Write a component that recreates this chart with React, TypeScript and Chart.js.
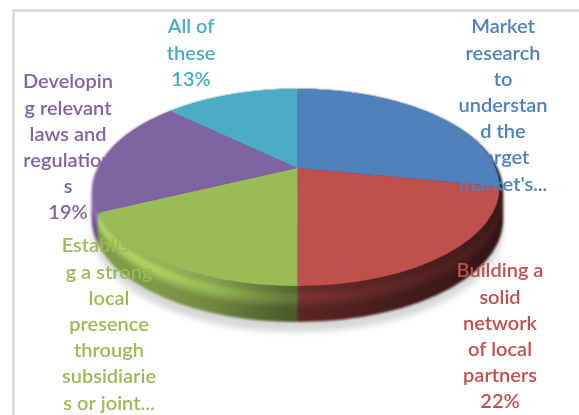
import React, { useEffect, useRef } from "react";
import { Chart, registerables } from "chart.js";

Chart.register(...registerables);

// Share of respondents per measure, clockwise from twelve o'clock.
const categories = [
  "Market research to understand the target market's...",
  "Building a solid network of local partners",
  "Establishing a strong local presence through subsidiaries or joint...",
  "Developing relevant laws and regulations",
  "All of these",
];
const shares = [28, 22, 18, 19, 13];
const sliceColors = ["#4f81bd", "#c0504d", "#9bbb59", "#8064a2", "#4bacc6"];

// Wrapped label text, one entry per category.
const labelLines = [
  ["Market", "research", "to", "understan", "d the", "target", "market's..."],
  ["Building a", "solid", "network", "of local", "partners", "22%"],
  ["Establishin", "g a strong", "local", "presence", "through", "subsidiarie", "s or joint..."],
  ["Developin", "g relevant", "laws and", "regulation", "s", "19%"],
  ["All of", "these", "13%"],
];

// Centre x and first-line centre y of each label block.
const labelAnchors = [
  [503, 27],
  [500, 271],
  [109, 246],
  [68, 82],
  [191, 27],
];
const LINE_HEIGHT = 26.2;

const W = 579;
const H = 415;

// Projected disc: apex of the slices, far and near rim, half width through the apex.
const APEX_X = 297.5;
const APEX_Y = 168;
const RIM_TOP = 89;
const RIM_BOTTOM = 292;
const FACE_BOTTOM = 286;
const HALF_WIDTH = 200;
const DEPTH = 30;

function layer() {
  const c = document.createElement("canvas");
  c.width = W;
  c.height = H;
  return c;
}

// Re-projects the flat disc row by row onto a receding plane.
function project(
  src: HTMLCanvasElement,
  cx: number,
  cy: number,
  r: number,
  halfWidth: number,
  rimBottom: number
) {
  const out = layer();
  const g = out.getContext("2d")!;
  const up = APEX_Y - RIM_TOP;
  const down = rimBottom - APEX_Y;
  const k = (up - down) / (up + down);
  const b = up * (1 - k);
  const toV = (y: number) => {
    const t = (y - APEX_Y) / b;
    return t / (1 - k * t);
  };
  const pad = 3;
  for (let y = RIM_TOP - 1; y <= rimBottom + 1; y++) {
    const v0 = toV(y);
    const v1 = toV(y + 1);
    const s = 1 / (1 + k * ((v0 + v1) / 2));
    const hw = ((r + pad) * halfWidth * s) / r;
    g.drawImage(src, cx - r - pad, cy + r * v0, 2 * (r + pad), r * (v1 - v0), APEX_X - hw, y, 2 * hw, 1);
  }
  return out;
}

// Light catches the upper edge of the wall, then it falls off towards the floor.
function wallBrightness(d: number) {
  if (d < 3) return 1 + d * 0.04;
  if (d < 8) return 1.14;
  if (d < 18) return 1.14 - (d - 8) * 0.03;
  return 0.84;
}

const discPlugin = {
  id: "disc",
  afterDatasetsDraw(chart: any) {
    const ctx = chart.ctx as CanvasRenderingContext2D;
    const arc = chart.getDatasetMeta(0).data[0];
    const src = layer();
    src.getContext("2d")!.drawImage(chart.canvas, 0, 0);
    ctx.clearRect(0, 0, W, H);

    const r = arc.outerRadius;
    const rim = project(src, arc.x, arc.y, r, HALF_WIDTH, RIM_BOTTOM);
    const face = project(src, arc.x, arc.y, r, HALF_WIDTH - 2, FACE_BOTTOM);

    const wall = layer();
    const w = wall.getContext("2d")!;
    for (let d = DEPTH; d >= 0; d--) {
      w.filter = `brightness(${wallBrightness(d)})`;
      w.drawImage(rim, 0, d);
    }
    w.filter = "none";
    w.globalCompositeOperation = "source-atop";
    const shade = w.createLinearGradient(90, 0, 505, 0);
    shade.addColorStop(0, "rgba(0,0,0,0)");
    shade.addColorStop(0.16, "rgba(0,0,0,0.02)");
    shade.addColorStop(0.3, "rgba(0,0,0,0.14)");
    shade.addColorStop(0.47, "rgba(0,0,0,0.42)");
    shade.addColorStop(0.75, "rgba(0,0,0,0.58)");
    shade.addColorStop(1, "rgba(0,0,0,0.7)");
    w.fillStyle = shade;
    w.fillRect(0, 0, W, H);

    ctx.save();
    ctx.filter = "brightness(0) opacity(0.16) blur(3px)";
    ctx.drawImage(wall, 0, 10);
    ctx.filter = "blur(1px)";
    ctx.drawImage(wall, 0, 0);
    ctx.filter = "none";
    ctx.drawImage(face, 0, 0);
    ctx.restore();
  },
  afterDraw(chart: any) {
    const ctx = chart.ctx as CanvasRenderingContext2D;
    ctx.save();
    ctx.font = "600 20px Lato";
    ctx.textAlign = "center";
    ctx.textBaseline = "middle";
    labelLines.forEach((lines, i) => {
      ctx.fillStyle = sliceColors[i];
      lines.forEach((line, j) => {
        ctx.fillText(line, labelAnchors[i][0], labelAnchors[i][1] + j * LINE_HEIGHT);
      });
    });
    ctx.restore();
  },
};

export default function App() {
  const ref = useRef<HTMLCanvasElement>(null);
  useEffect(() => {
    const chart = new Chart(ref.current!, {
      type: "pie",
      data: {
        labels: categories,
        datasets: [{ data: shares, backgroundColor: sliceColors, borderWidth: 0 }],
      },
      options: {
        animation: false,
        responsive: false,
        layout: { padding: 0 },
        plugins: { legend: { display: false }, tooltip: { enabled: false } },
      },
      plugins: [discPlugin],
    });
    return () => chart.destroy();
  }, []);
  return (
    <div style={{ position: "absolute", left: 0, top: 0, width: W, height: H, background: "#fff", overflow: "hidden" }}>
      <div
        style={{
          position: "absolute",
          left: 12,
          top: 9,
          width: W,
          height: H,
          borderTop: "3px solid #dcdcdc",
          borderLeft: "3px solid #dcdcdc",
        }}
      />
      <canvas ref={ref} width={W} height={H} style={{ position: "absolute", left: 0, top: 0, display: "block" }} />
    </div>
  );
}
